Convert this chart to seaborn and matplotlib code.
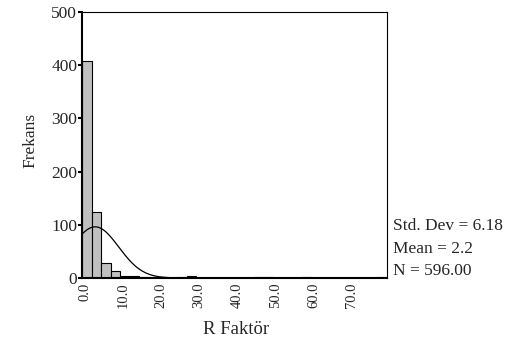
import numpy as np
import pandas as pd
import matplotlib
matplotlib.use("Agg")
import matplotlib.pyplot as plt
import matplotlib.transforms as mtrans
import seaborn as sns

# Data (bin centers, counts in each bin of width 2.5)
bin_centers = [0.0, 2.5, 5.0, 7.5, 10.0, 12.5, 15.0, 17.5, 20.0, 25.0, 27.5, 45.0, 47.5, 57.5, 77.5]
counts = [408, 124, 28, 13, 3, 3, 1, 1, 1, 1, 3, 1, 1, 1, 1]
std_dev = 6.18
mean_val = 2.2
n_total = 596
bin_width = 2.5
x_ticks = [0, 10, 20, 30, 40, 50, 60, 70]
x_tick_labels = ["0.0", "10.0", "20.0", "30.0", "40.0", "50.0", "60.0", "70.0"]
y_ticks = [0, 100, 200, 300, 400, 500]

sns.set_style("white")
plt.rcParams["font.family"] = ["Liberation Serif", "DejaVu Serif"]

W, H = 509, 347
fig = plt.figure(figsize=(W / 100, H / 100), dpi=100)
ax = fig.add_axes([82 / W, 1 - 278 / H, (387 - 82) / W, (278 - 12) / H])

df = pd.DataFrame({"x": bin_centers, "w": counts})
sns.histplot(data=df, x="x", weights="w", binwidth=bin_width, binrange=(-1.25, 78.75), ax=ax,
             color="#c0c0c0", edgecolor="black", linewidth=0.8, alpha=1.0)

# Normal curve from summary statistics
xs = np.linspace(-1.25, 78.75, 400)
ys = n_total * bin_width / (std_dev * np.sqrt(2 * np.pi)) * np.exp(-0.5 * ((xs - mean_val) / std_dev) ** 2)
sns.lineplot(x=xs, y=ys, ax=ax, color="black", linewidth=0.9)

ax.set_xlim(-1.25, 78.75)
ax.set_ylim(0, 500)
ax.set_yticks(y_ticks)
ax.set_yticklabels([str(v) for v in y_ticks], fontsize=12.5)
ax.set_xticks(x_ticks)
ax.set_xticklabels(x_tick_labels, rotation=90, fontsize=10.5)
ax.tick_params(axis="y", direction="out", length=3, width=1.5, pad=0.5, color="black", left=True)
ax.tick_params(axis="x", length=0, pad=3.5)
offset = mtrans.ScaledTranslation(-2 / 100, 0, fig.dpi_scale_trans)
for lab in ax.get_xticklabels():
    lab.set_transform(lab.get_transform() + offset)

for s in ax.spines.values():
    s.set_visible(True)
    s.set_color("black")
    s.set_linewidth(0.8)
ax.spines["left"].set_linewidth(1.5)
ax.spines["bottom"].set_linewidth(1.5)

ax.set_xlabel("")
ax.set_ylabel("")
fig.text(236 / W, 1 - 330 / H, "R Faktör", ha="center", va="center", fontsize=13.5)
fig.text(30 / W, 1 - 140 / H, "Frekans", ha="center", va="center", rotation=90, fontsize=12.5)

fig.text(393 / W, 1 - 226 / H, f"Std. Dev = {std_dev:.2f}", ha="left", va="center", fontsize=12.5)
fig.text(393 / W, 1 - 249 / H, f"Mean = {mean_val}", ha="left", va="center", fontsize=12.5)
fig.text(393 / W, 1 - 271 / H, f"N = {n_total:.2f}", ha="left", va="center", fontsize=12.5)

fig.savefig("out.png", dpi=100)
